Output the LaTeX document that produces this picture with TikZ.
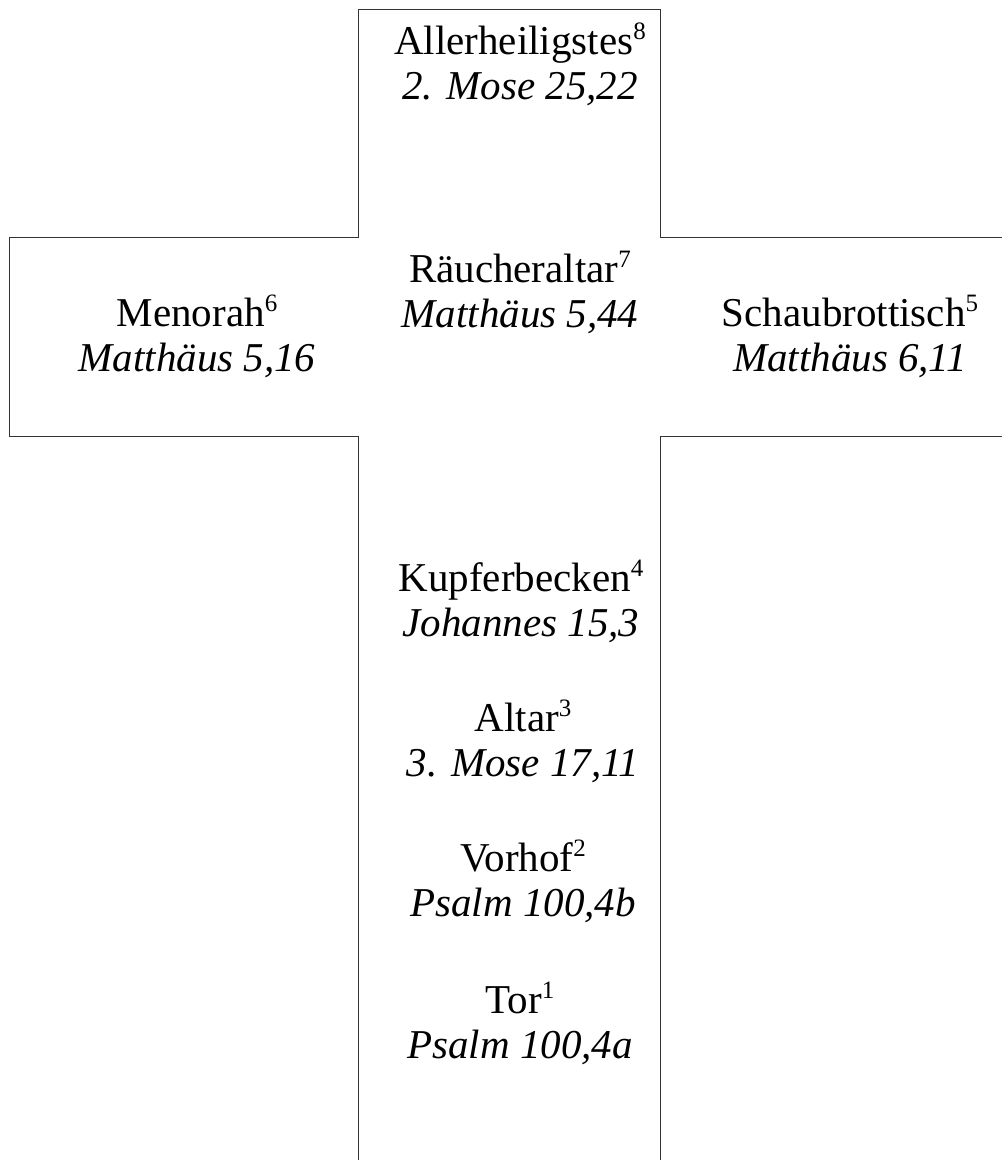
\documentclass[tikz,border=0pt]{standalone}
\usepackage{fontspec}
\setmainfont{Liberation Serif}
\usepackage{tikz}

\newcommand{\stationno}[1]{\raisebox{15pt}{\fontsize{25}{25}\selectfont #1}}

\begin{document}
\begin{tikzpicture}[x=1pt, y=-1pt,
    station/.style={align=center, inner sep=0pt, font=\fontsize{41}{45}\selectfont},
    outline/.style={line width=0.9pt, black!80}]
\useasboundingbox (0,0) rectangle (1002,1160);

% cross outline
\draw[outline] (358,1160) -- (358,436) -- (9,436) -- (9,237) -- (358,237)
    -- (358,9) -- (660,9) -- (660,237) -- (1002,237);
\draw[outline] (1002,436) -- (660,436) -- (660,1160);

\node[station] (heilig) at (520,64) {Allerheiligstes\stationno{8}\\\textit{2. Mose 25,22}};
\node[station] (raeucher) at (520,292) {Räucheraltar\stationno{7}\\\textit{Matthäus 5,44}};
\node[station] (menorah) at (197,336) {Menorah\stationno{6}\\\textit{Matthäus 5,16}};
\node[station] (schaubrot) at (850,336) {Schaubrottisch\stationno{5}\\\textit{Matthäus 6,11}};
\node[station] (becken) at (521,601) {Kupferbecken\stationno{4}\\\textit{Johannes 15,3}};
\node[station] (altar) at (523,741) {Altar\stationno{3}\\\textit{3. Mose 17,11}};
\node[station] (vorhof) at (523,881) {Vorhof\stationno{2}\\\textit{Psalm 100,4b}};
\node[station] (tor) at (520,1023) {Tor\stationno{1}\\\textit{Psalm 100,4a}};
\end{tikzpicture}
\end{document}
